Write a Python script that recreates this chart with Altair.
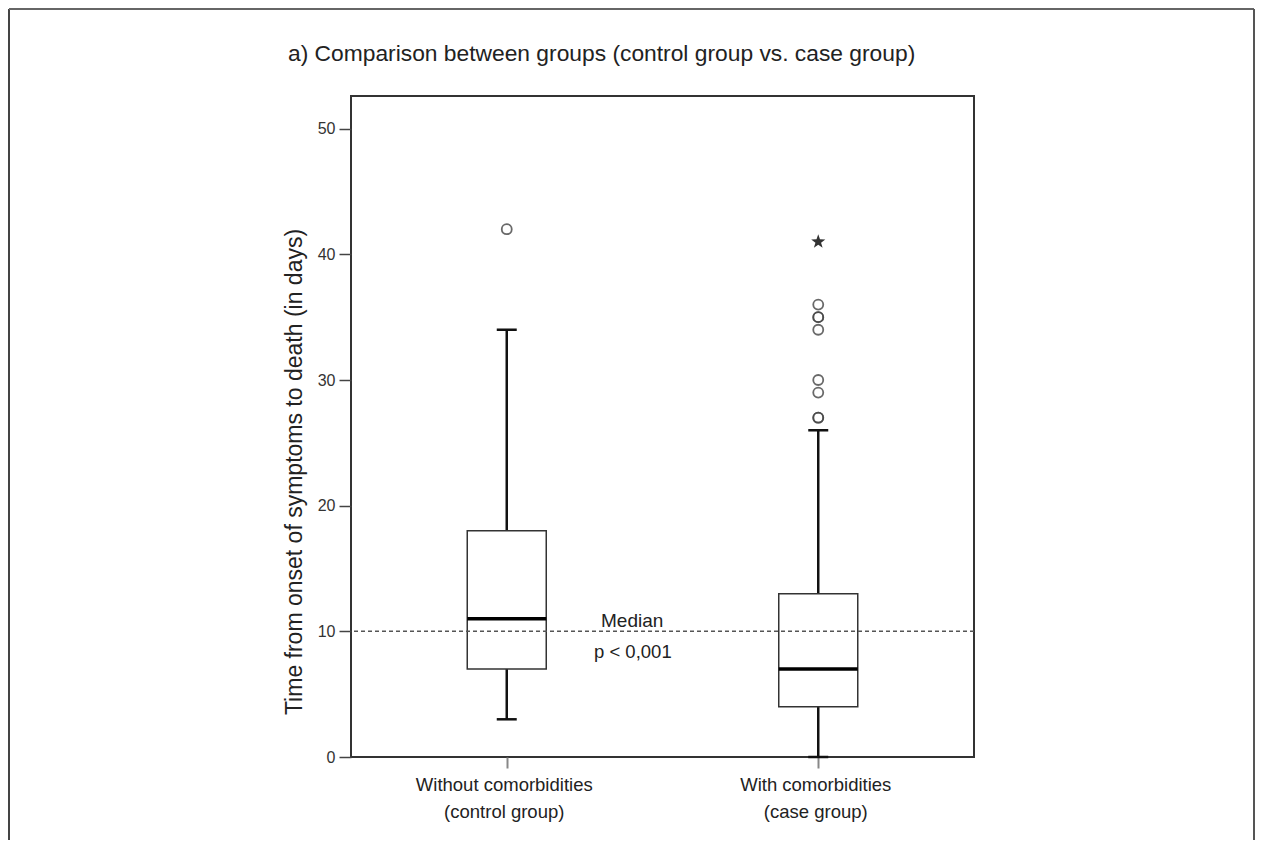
import altair as alt
import pandas as pd

# ---- data ----
groups = ["Without comorbidities", "With comorbidities"]
group_sub = ["(control group)", "(case group)"]
whisker_low = [3, 0]
q1 = [7, 4]
median = [11, 7]
q3 = [18, 13]
whisker_high = [34, 26]
outlier_group = ["Without comorbidities"] + ["With comorbidities"] * 8
outlier_value = [42, 27, 27, 29, 30, 34, 35, 35, 36]
extreme_group = ["With comorbidities"]
extreme_value = [41]
reference_median = 10
y_ticks = [0, 10, 20, 30, 40, 50]

title_text = "a) Comparison between groups (control group vs. case group)"
y_title = "Time from onset of symptoms to death (in days)"
median_label = "Median"
p_label = "p < 0,001"

FONT = "Liberation Sans"
W, H = 623, 661

boxes = pd.DataFrame({"group": groups, "lo": whisker_low, "q1": q1,
                      "med": median, "q3": q3, "hi": whisker_high})
outl = pd.DataFrame({"group": outlier_group, "value": outlier_value})
extr = pd.DataFrame({"group": extreme_group, "value": extreme_value})

label_expr = ("datum.value == '%s' ? ['%s', '%s'] : ['%s', '%s']"
              % (groups[0], groups[0], group_sub[0], groups[1], group_sub[1]))

x_enc = alt.X("group:N", sort=groups, title=None,
              scale=alt.Scale(type="point", padding=0.5),
              axis=alt.Axis(labelAngle=0, labelExpr=label_expr, labelFont=FONT,
                            labelFontSize=18.5, labelColor="#222", labelLineHeight=27,
                            labelPadding=7, tickSize=11, tickWidth=2, tickColor="#888",
                            domain=False, labelBaseline="top", labelOffset=-3))
y_scale = alt.Scale(domain=[0, 52.6], nice=False, zero=True)
y_axis = alt.Axis(values=y_ticks, title=None, grid=False, domain=False,
                  tickSize=12, tickWidth=1.5, tickColor="#444", labelFont=FONT,
                  labelFontSize=16, labelColor="#333", labelPadding=4)

base = alt.Chart(boxes)

whisk_up = base.mark_rule(color="#111", strokeWidth=2.5).encode(
    x=x_enc, y=alt.Y("q3:Q", scale=y_scale, axis=y_axis), y2="hi:Q")
whisk_dn = base.mark_rule(color="#111", strokeWidth=2.5).encode(
    x=x_enc, y=alt.Y("lo:Q", scale=y_scale, axis=y_axis), y2="q1:Q")
cap_hi = base.mark_tick(color="#111", size=20, thickness=2.5, opacity=1).encode(
    x=x_enc, y=alt.Y("hi:Q", scale=y_scale, axis=y_axis))
cap_lo = base.mark_tick(color="#111", size=20, thickness=2.5, opacity=1).encode(
    x=x_enc, y=alt.Y("lo:Q", scale=y_scale, axis=y_axis))
box = base.mark_bar(size=79, fill="white", stroke="#333", strokeWidth=1.5).encode(
    x=x_enc, y=alt.Y("q1:Q", scale=y_scale, axis=y_axis), y2="q3:Q")
med = base.mark_tick(color="#000", size=79, thickness=3.5, opacity=1).encode(
    x=x_enc, y=alt.Y("med:Q", scale=y_scale, axis=y_axis))

ref_line = alt.Chart(pd.DataFrame({"v": [reference_median]})).mark_rule(
    color="#555", strokeWidth=1.5, strokeDash=[4, 3]).encode(
    y=alt.Y("v:Q", scale=y_scale, axis=y_axis))

circles = alt.Chart(outl).mark_point(shape="circle", size=100, filled=False,
                                     color="#444", strokeWidth=1.8, opacity=0.8).encode(
    x=x_enc, y=alt.Y("value:Q", scale=y_scale, axis=y_axis))

star_path = ("M0,-1 L0.235,-0.324 L0.951,-0.309 L0.380,0.124 L0.588,0.809 L0,0.4 "
             "L-0.588,0.809 L-0.380,0.124 L-0.951,-0.309 L-0.235,-0.324 Z")
stars = alt.Chart(extr).mark_point(shape=star_path, size=220, filled=True,
                                   color="#333", opacity=1).encode(
    x=x_enc, y=alt.Y("value:Q", scale=y_scale, axis=y_axis))

one = alt.Data(values=[{"a": 1}])
title_mark = alt.Chart(one).mark_text(
    text=title_text, font=FONT, fontSize=22.8, color="#222", align="left",
    baseline="middle").encode(x=alt.value(-63), y=alt.value(-42))
ytitle_mark = alt.Chart(one).mark_text(
    text=y_title, font=FONT, fontSize=23, color="#222", align="center",
    baseline="middle", angle=270).encode(x=alt.value(-56), y=alt.value(376))
median_mark = alt.Chart(one).mark_text(
    text=median_label, font=FONT, fontSize=19, color="#222", align="left",
    baseline="middle").encode(x=alt.value(250), y=alt.value(525))
p_mark = alt.Chart(one).mark_text(
    text=p_label, font=FONT, fontSize=18.5, color="#222", align="left",
    baseline="middle").encode(x=alt.value(243), y=alt.value(556))

# outer figure frame (left, top, right edges)
frame_left = alt.Chart(one).mark_rule(color="#444", strokeWidth=2).encode(
    x=alt.value(-342), y=alt.value(-87), y2=alt.value(744))
frame_top = alt.Chart(one).mark_rule(color="#666", strokeWidth=2).encode(
    x=alt.value(-342), x2=alt.value(903), y=alt.value(-87))
frame_right = alt.Chart(one).mark_rule(color="#555", strokeWidth=2).encode(
    x=alt.value(903), y=alt.value(-87), y2=alt.value(744))

chart = alt.layer(
    whisk_up, whisk_dn, cap_hi, cap_lo, box, med, ref_line, circles, stars,
    title_mark, ytitle_mark, median_mark, p_mark,
    frame_left, frame_top, frame_right,
).properties(
    width=W, height=H, padding=0
).configure(
    background="white",
    view=alt.ViewConfig(stroke="#333", strokeWidth=2),
)

chart.save("out.html", embed_options={"renderer": "svg", "actions": False})
